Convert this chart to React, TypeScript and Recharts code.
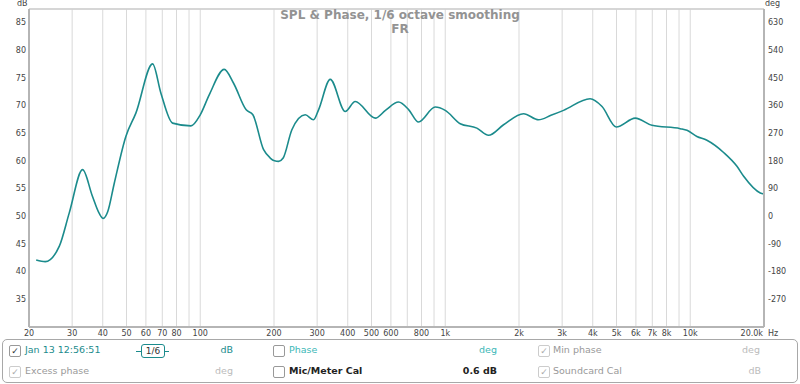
import { LineChart, Line, XAxis, YAxis, CartesianGrid, ReferenceLine } from "recharts";

const freqHz = [
  21.4, 23.3, 26.6, 29.2, 33.1, 36.3, 38.7, 40.2, 41.9, 44.6, 49.7, 54.6, 63.9, 69.1, 77.1, 91.6,
  100, 108.8, 125.3, 136.8, 154, 164, 181.4, 193, 201, 208.8, 218, 236.6, 268.3, 290, 304, 339.4,
  390.7, 429, 518, 570, 645, 710, 778, 910, 1000, 1151, 1346, 1502, 1730, 2087, 2404, 2700, 3040,
  3900, 4365, 4990, 5965, 6978, 9102, 9700, 10645, 11695, 13680, 15510, 16520, 19310, 20000,
];
const splDb = [
  42.1, 41.8, 44.6, 50.6, 58.4, 53.6, 50.5, 49.6, 50.8, 56.0, 64.4, 68.6, 77.5, 72.2, 66.8, 66.3,
  68.3, 71.9, 76.5, 74.0, 69.2, 68.3, 62.0, 60.5, 60.0, 59.9, 60.5, 65.6, 68.3, 67.4, 69.2, 74.7,
  68.9, 70.7, 67.7, 69.1, 70.6, 69.2, 67.0, 69.7, 69.1, 66.7, 65.9, 64.6, 66.5, 68.5, 67.4, 68.2, 69.1,
  71.2, 69.8, 66.1, 67.7, 66.4, 65.8, 65.5, 64.4, 63.7, 61.5, 59.0, 57.2, 54.2, 54.0,
];

const freqTicks = [
  20, 30, 40, 50, 60, 70, 80, 90, 100, 200, 300, 400, 500, 600, 700, 800, 900, 1000,
  2000, 3000, 4000, 5000, 6000, 7000, 8000, 9000, 10000, 20000,
];
const freqLabels: Record<number, string> = {
  20: "20", 30: "30", 40: "40", 50: "50", 60: "60", 70: "70", 80: "80", 100: "100",
  200: "200", 300: "300", 400: "400", 500: "500", 600: "600", 800: "800", 1000: "1k",
  2000: "2k", 3000: "3k", 4000: "4k", 5000: "5k", 6000: "6k", 7000: "7k", 8000: "8k",
  10000: "10k", 20000: "20.0k",
};
const dbTicks = [35, 40, 45, 50, 55, 60, 65, 70, 75, 80, 85];
const degTicks = [-270, -180, -90, 0, 90, 180, 270, 360, 450, 540, 630];

const data = freqHz.map((f, i) => ({ f, spl: splDb[i] }));

const TEAL = "#1b8b8c";
const FONT = "'DejaVu Sans', sans-serif";

function FreqTick({ x, y, payload }: any) {
  const label = freqLabels[payload.value];
  if (!label) return <g />;
  const last = payload.value === 20000;
  return (
    <text x={last ? x - 1 : x} y={y} dy={9} textAnchor={last ? "end" : "middle"} fontSize={8} fill="#444" fontFamily={FONT}>
      {label}
    </text>
  );
}

function Box({ x, y, checked, dim }: { x: number; y: number; checked?: boolean; dim?: boolean }) {
  return (
    <div
      style={{
        position: "absolute", left: x, top: y, width: 10, height: 10, border: "1px solid " + (dim ? "#ccc" : "#999"),
        borderRadius: 2, background: "#fff", fontSize: 9, lineHeight: "10px", textAlign: "center",
        color: dim ? "#aaa" : "#333",
      }}
    >
      {checked ? "✓" : ""}
    </div>
  );
}

function Txt({ x, y, children, color, bold, align }: any) {
  return (
    <div
      style={{
        position: "absolute", left: align === "right" ? undefined : x, right: align === "right" ? 800 - x : undefined,
        top: y, fontSize: 9.5, color, fontWeight: bold ? "bold" : "normal", whiteSpace: "nowrap", lineHeight: "12px",
      }}
    >
      {children}
    </div>
  );
}

export default function App() {
  return (
    <div style={{ position: "absolute", left: 0, top: 0, width: 800, height: 384, background: "#fff", fontFamily: FONT, overflow: "hidden" }}>
      <LineChart width={800} height={340} data={data} margin={{ top: 9, right: 0, bottom: 0, left: 0 }}>
        <CartesianGrid stroke="#d9d9d9" strokeWidth={1} />
        <XAxis
          dataKey="f" type="number" scale="log" domain={[20, 20000]} ticks={freqTicks} interval={0}
          allowDataOverflow height={13} tickSize={0} tickMargin={0} tick={<FreqTick />}
          axisLine={{ stroke: "#b5b5b5", strokeWidth: 2 }} tickLine={false}
        />
        <YAxis
          yAxisId="db" domain={[30, 87.4]} ticks={dbTicks} interval={0} allowDataOverflow width={29}
          tickSize={0} tickMargin={3} tick={{ fontSize: 8, fill: "#444", fontFamily: FONT }}
          axisLine={{ stroke: "#b5b5b5", strokeWidth: 2 }} tickLine={false}
        />
        <YAxis
          yAxisId="deg" orientation="right" domain={[-360, 673.2]} ticks={degTicks} interval={0} allowDataOverflow
          width={36} tickSize={0} tickMargin={4} tick={{ fontSize: 8, fill: "#444", fontFamily: FONT, textAnchor: "start" }}
          axisLine={{ stroke: "#b5b5b5", strokeWidth: 2 }} tickLine={false}
        />
        <ReferenceLine yAxisId="db" y={87.4} stroke="#cfcfcf" strokeWidth={1.5} />
        <Line yAxisId="db" dataKey="spl" type="monotone" stroke={TEAL} strokeWidth={1.6} dot={false} isAnimationActive={false} />
      </LineChart>

      <div style={{ position: "absolute", left: 17, top: -1, fontSize: 8, color: "#444" }}>dB</div>
      <div style={{ position: "absolute", left: 765, top: -1, fontSize: 8, color: "#444" }}>deg</div>
      <div style={{ position: "absolute", left: 768, top: 329, fontSize: 8, color: "#444" }}>Hz</div>
      <div style={{ position: "absolute", left: 0, width: 800, top: 8, textAlign: "center", fontSize: 12, fontWeight: "bold", color: "#939393", lineHeight: "14px" }}>
        SPL &amp; Phase, 1/6 octave smoothing
        <br />
        FR
      </div>

      <div style={{ position: "absolute", left: 2, top: 339, width: 794, height: 42, border: "1px solid #a8a8a8", borderRadius: 5 }} />
      <Box x={9} y={345} checked />
      <Txt x={25} y={344} color={TEAL}>Jan 13 12:56:51</Txt>
      <div style={{ position: "absolute", left: 136, top: 351, width: 33, height: 1, background: TEAL }} />
      <div style={{ position: "absolute", left: 141, top: 344, width: 22, height: 12, border: "1.5px solid " + TEAL, borderRadius: 3, background: "#fff", fontSize: 9, lineHeight: "12px", textAlign: "center", color: "#333" }}>
        1/6
      </div>
      <Txt x={233} y={344} color={TEAL} align="right">dB</Txt>
      <Box x={273} y={345} />
      <Txt x={289} y={344} color="#3cb7b7">Phase</Txt>
      <Txt x={497} y={344} color="#3cb7b7" align="right">deg</Txt>
      <Box x={538} y={345} checked dim />
      <Txt x={553} y={344} color="#999">Min phase</Txt>
      <Txt x={760} y={344} color="#bbb" align="right">deg</Txt>

      <Box x={9} y={366} checked dim />
      <Txt x={25} y={365} color="#999">Excess phase</Txt>
      <Txt x={233} y={365} color="#bbb" align="right">deg</Txt>
      <Box x={273} y={366} />
      <Txt x={289} y={365} color="#222" bold>Mic/Meter Cal</Txt>
      <Txt x={497} y={365} color="#222" bold align="right">0.6 dB</Txt>
      <Box x={538} y={366} checked dim />
      <Txt x={553} y={365} color="#999">Soundcard Cal</Txt>
      <Txt x={761} y={365} color="#bbb" align="right">dB</Txt>
    </div>
  );
}
